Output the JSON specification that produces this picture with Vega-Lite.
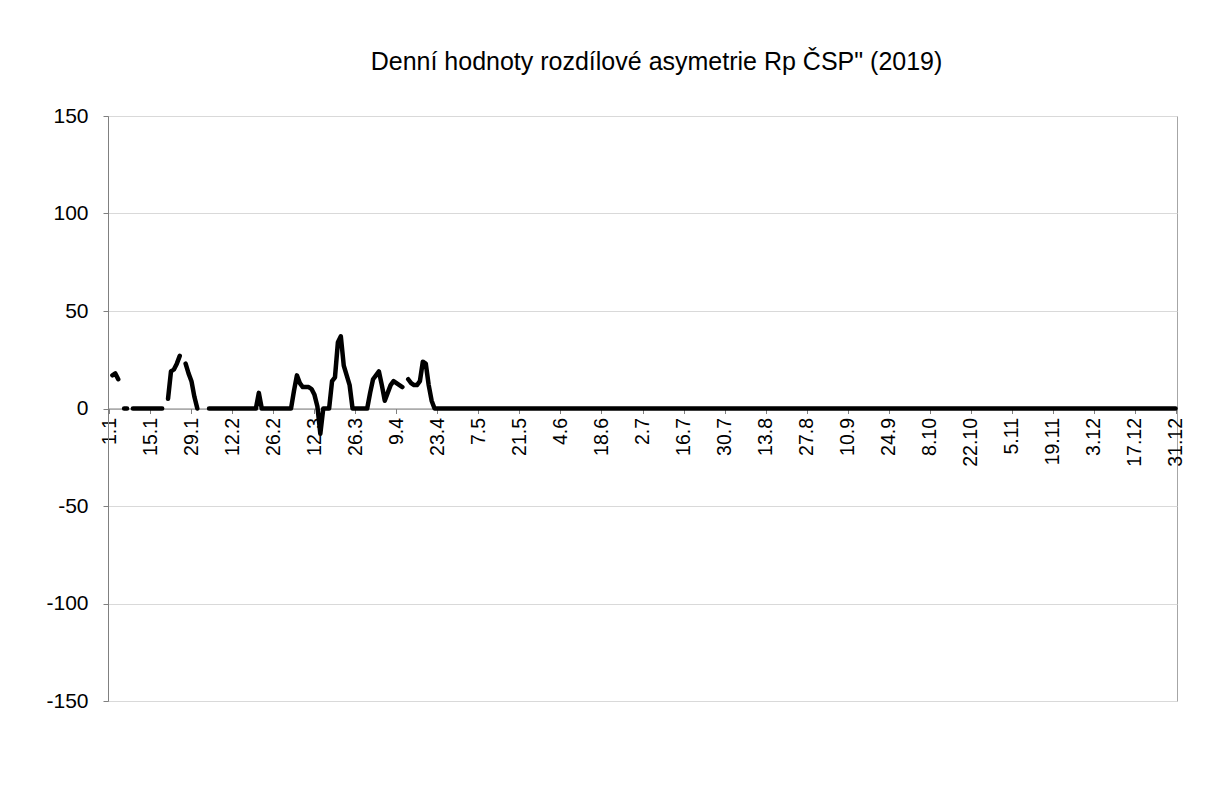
{
"$schema": "https://vega.github.io/schema/vega-lite/v6.json",
"width": 1069, "height": 585,
"autosize": {"type": "none"},
"padding": {"left": 108, "top": 116, "right": 39, "bottom": 91},
"background": "white",
"title": {"text": "Denní hodnoty rozdílové asymetrie Rp ČSP\" (2019)", "font": "Liberation Sans", "fontSize": 25, "fontWeight": "normal", "color": "black", "offset": 30, "dx": 14},
"config": {"view": {"stroke": "#a6a6a6", "strokeWidth": 1}, "font": "Liberation Sans"},
"data": {"values": [
{"day":1,"value":null},{"day":2,"value":17},{"day":3,"value":18},{"day":4,"value":15},{"day":5,"value":null},
{"day":6,"value":0},{"day":7,"value":0},{"day":8,"value":null},{"day":9,"value":0},{"day":10,"value":0},
{"day":11,"value":0},{"day":12,"value":0},{"day":13,"value":0},{"day":14,"value":0},{"day":15,"value":0},
{"day":16,"value":0},{"day":17,"value":0},{"day":18,"value":0},{"day":19,"value":0},{"day":20,"value":null},
{"day":21,"value":5},{"day":22,"value":19},{"day":23,"value":20},{"day":24,"value":23},{"day":25,"value":27},
{"day":26,"value":null},{"day":27,"value":23},{"day":28,"value":18},{"day":29,"value":14},{"day":30,"value":6},
{"day":31,"value":0},{"day":32,"value":null},{"day":33,"value":null},{"day":34,"value":null},{"day":35,"value":0},
{"day":36,"value":0},{"day":37,"value":0},{"day":38,"value":0},{"day":39,"value":0},{"day":40,"value":0},
{"day":41,"value":0},{"day":42,"value":0},{"day":43,"value":0},{"day":44,"value":0},{"day":45,"value":0},
{"day":46,"value":0},{"day":47,"value":0},{"day":48,"value":0},{"day":49,"value":0},{"day":50,"value":0},
{"day":51,"value":0},{"day":52,"value":8},{"day":53,"value":0},{"day":54,"value":0},{"day":55,"value":0},
{"day":56,"value":0},{"day":57,"value":0},{"day":58,"value":0},{"day":59,"value":0},{"day":60,"value":0},
{"day":61,"value":0},{"day":62,"value":0},{"day":63,"value":0},{"day":64,"value":9},{"day":65,"value":17},
{"day":66,"value":13},{"day":67,"value":11},{"day":68,"value":11},{"day":69,"value":11},{"day":70,"value":10},
{"day":71,"value":7},{"day":72,"value":1},{"day":73,"value":-13},{"day":74,"value":0},{"day":75,"value":0},
{"day":76,"value":0},{"day":77,"value":14},{"day":78,"value":16},{"day":79,"value":34},{"day":80,"value":37},
{"day":81,"value":22},{"day":82,"value":17},{"day":83,"value":12},{"day":84,"value":0},{"day":85,"value":0},
{"day":86,"value":0},{"day":87,"value":0},{"day":88,"value":0},{"day":89,"value":0},{"day":90,"value":8},
{"day":91,"value":15},{"day":92,"value":17},{"day":93,"value":19},{"day":94,"value":12},{"day":95,"value":4},
{"day":96,"value":8},{"day":97,"value":12},{"day":98,"value":14},{"day":99,"value":13},{"day":100,"value":12},
{"day":101,"value":11},{"day":102,"value":null},{"day":103,"value":15},{"day":104,"value":13},{"day":105,"value":12},
{"day":106,"value":12},{"day":107,"value":14},{"day":108,"value":24},{"day":109,"value":23},{"day":110,"value":12},
{"day":111,"value":4},{"day":112,"value":0},{"day":113,"value":0},{"day":114,"value":0},{"day":115,"value":0},
{"day":116,"value":0},{"day":117,"value":0},{"day":118,"value":0},{"day":119,"value":0},{"day":120,"value":0},
{"day":121,"value":0},{"day":122,"value":0},{"day":123,"value":0},{"day":124,"value":0},{"day":125,"value":0},
{"day":126,"value":0},{"day":127,"value":0},{"day":128,"value":0},{"day":129,"value":0},{"day":130,"value":0},
{"day":131,"value":0},{"day":132,"value":0},{"day":133,"value":0},{"day":134,"value":0},{"day":135,"value":0},
{"day":136,"value":0},{"day":137,"value":0},{"day":138,"value":0},{"day":139,"value":0},{"day":140,"value":0},
{"day":141,"value":0},{"day":142,"value":0},{"day":143,"value":0},{"day":144,"value":0},{"day":145,"value":0},
{"day":146,"value":0},{"day":147,"value":0},{"day":148,"value":0},{"day":149,"value":0},{"day":150,"value":0},
{"day":151,"value":0},{"day":152,"value":0},{"day":153,"value":0},{"day":154,"value":0},{"day":155,"value":0},
{"day":156,"value":0},{"day":157,"value":0},{"day":158,"value":0},{"day":159,"value":0},{"day":160,"value":0},
{"day":161,"value":0},{"day":162,"value":0},{"day":163,"value":0},{"day":164,"value":0},{"day":165,"value":0},
{"day":166,"value":0},{"day":167,"value":0},{"day":168,"value":0},{"day":169,"value":0},{"day":170,"value":0},
{"day":171,"value":0},{"day":172,"value":0},{"day":173,"value":0},{"day":174,"value":0},{"day":175,"value":0},
{"day":176,"value":0},{"day":177,"value":0},{"day":178,"value":0},{"day":179,"value":0},{"day":180,"value":0},
{"day":181,"value":0},{"day":182,"value":0},{"day":183,"value":0},{"day":184,"value":0},{"day":185,"value":0},
{"day":186,"value":0},{"day":187,"value":0},{"day":188,"value":0},{"day":189,"value":0},{"day":190,"value":0},
{"day":191,"value":0},{"day":192,"value":0},{"day":193,"value":0},{"day":194,"value":0},{"day":195,"value":0},
{"day":196,"value":0},{"day":197,"value":0},{"day":198,"value":0},{"day":199,"value":0},{"day":200,"value":0},
{"day":201,"value":0},{"day":202,"value":0},{"day":203,"value":0},{"day":204,"value":0},{"day":205,"value":0},
{"day":206,"value":0},{"day":207,"value":0},{"day":208,"value":0},{"day":209,"value":0},{"day":210,"value":0},
{"day":211,"value":0},{"day":212,"value":0},{"day":213,"value":0},{"day":214,"value":0},{"day":215,"value":0},
{"day":216,"value":0},{"day":217,"value":0},{"day":218,"value":0},{"day":219,"value":0},{"day":220,"value":0},
{"day":221,"value":0},{"day":222,"value":0},{"day":223,"value":0},{"day":224,"value":0},{"day":225,"value":0},
{"day":226,"value":0},{"day":227,"value":0},{"day":228,"value":0},{"day":229,"value":0},{"day":230,"value":0},
{"day":231,"value":0},{"day":232,"value":0},{"day":233,"value":0},{"day":234,"value":0},{"day":235,"value":0},
{"day":236,"value":0},{"day":237,"value":0},{"day":238,"value":0},{"day":239,"value":0},{"day":240,"value":0},
{"day":241,"value":0},{"day":242,"value":0},{"day":243,"value":0},{"day":244,"value":0},{"day":245,"value":0},
{"day":246,"value":0},{"day":247,"value":0},{"day":248,"value":0},{"day":249,"value":0},{"day":250,"value":0},
{"day":251,"value":0},{"day":252,"value":0},{"day":253,"value":0},{"day":254,"value":0},{"day":255,"value":0},
{"day":256,"value":0},{"day":257,"value":0},{"day":258,"value":0},{"day":259,"value":0},{"day":260,"value":0},
{"day":261,"value":0},{"day":262,"value":0},{"day":263,"value":0},{"day":264,"value":0},{"day":265,"value":0},
{"day":266,"value":0},{"day":267,"value":0},{"day":268,"value":0},{"day":269,"value":0},{"day":270,"value":0},
{"day":271,"value":0},{"day":272,"value":0},{"day":273,"value":0},{"day":274,"value":0},{"day":275,"value":0},
{"day":276,"value":0},{"day":277,"value":0},{"day":278,"value":0},{"day":279,"value":0},{"day":280,"value":0},
{"day":281,"value":0},{"day":282,"value":0},{"day":283,"value":0},{"day":284,"value":0},{"day":285,"value":0},
{"day":286,"value":0},{"day":287,"value":0},{"day":288,"value":0},{"day":289,"value":0},{"day":290,"value":0},
{"day":291,"value":0},{"day":292,"value":0},{"day":293,"value":0},{"day":294,"value":0},{"day":295,"value":0},
{"day":296,"value":0},{"day":297,"value":0},{"day":298,"value":0},{"day":299,"value":0},{"day":300,"value":0},
{"day":301,"value":0},{"day":302,"value":0},{"day":303,"value":0},{"day":304,"value":0},{"day":305,"value":0},
{"day":306,"value":0},{"day":307,"value":0},{"day":308,"value":0},{"day":309,"value":0},{"day":310,"value":0},
{"day":311,"value":0},{"day":312,"value":0},{"day":313,"value":0},{"day":314,"value":0},{"day":315,"value":0},
{"day":316,"value":0},{"day":317,"value":0},{"day":318,"value":0},{"day":319,"value":0},{"day":320,"value":0},
{"day":321,"value":0},{"day":322,"value":0},{"day":323,"value":0},{"day":324,"value":0},{"day":325,"value":0},
{"day":326,"value":0},{"day":327,"value":0},{"day":328,"value":0},{"day":329,"value":0},{"day":330,"value":0},
{"day":331,"value":0},{"day":332,"value":0},{"day":333,"value":0},{"day":334,"value":0},{"day":335,"value":0},
{"day":336,"value":0},{"day":337,"value":0},{"day":338,"value":0},{"day":339,"value":0},{"day":340,"value":0},
{"day":341,"value":0},{"day":342,"value":0},{"day":343,"value":0},{"day":344,"value":0},{"day":345,"value":0},
{"day":346,"value":0},{"day":347,"value":0},{"day":348,"value":0},{"day":349,"value":0},{"day":350,"value":0},
{"day":351,"value":0},{"day":352,"value":0},{"day":353,"value":0},{"day":354,"value":0},{"day":355,"value":0},
{"day":356,"value":0},{"day":357,"value":0},{"day":358,"value":0},{"day":359,"value":0},{"day":360,"value":0},
{"day":361,"value":0},{"day":362,"value":0},{"day":363,"value":0},{"day":364,"value":0},{"day":365,"value":0}
]},
"mark": {"type": "line", "color": "black", "strokeWidth": 4.5, "strokeCap": "round", "strokeJoin": "round", "invalid": "break-paths-show-domains"},
"encoding": {
"x": {"field": "day", "type": "quantitative",
 "scale": {"domain": [0.5, 365.5], "nice": false, "zero": false},
 "axis": {"title": null, "values": [1,15,29,43,57,71,85,99,113,127,141,155,169,183,197,211,225,239,253,267,281,295,309,323,337,351,365],
  "labelExpr": "timeFormat(datetime(2019, 0, datum.value), '%-d.%-m')",
  "labelAngle": -90, "labelFontSize": 19.5, "labelFont": "Liberation Sans", "labelColor": "black", "labelPadding": 4,
  "labelOverlap": false, "labelFlush": false, "offset": -292.5, "domainColor": "#808080", "tickColor": "#808080", "tickSize": 5, "grid": false}},
"y": {"field": "value", "type": "quantitative",
 "scale": {"domain": [-150, 150], "nice": false},
 "axis": {"title": null, "values": [-150,-100,-50,0,50,100,150], "grid": true, "gridColor": "#d9d9d9",
  "labelExpr": "'' + datum.value",
  "domainColor": "#808080", "tickColor": "#808080", "tickSize": 5, "labelFontSize": 21, "labelFont": "Liberation Sans",
  "labelPadding": 15, "labelColor": "black", "labelFlush": false}}
}
}
